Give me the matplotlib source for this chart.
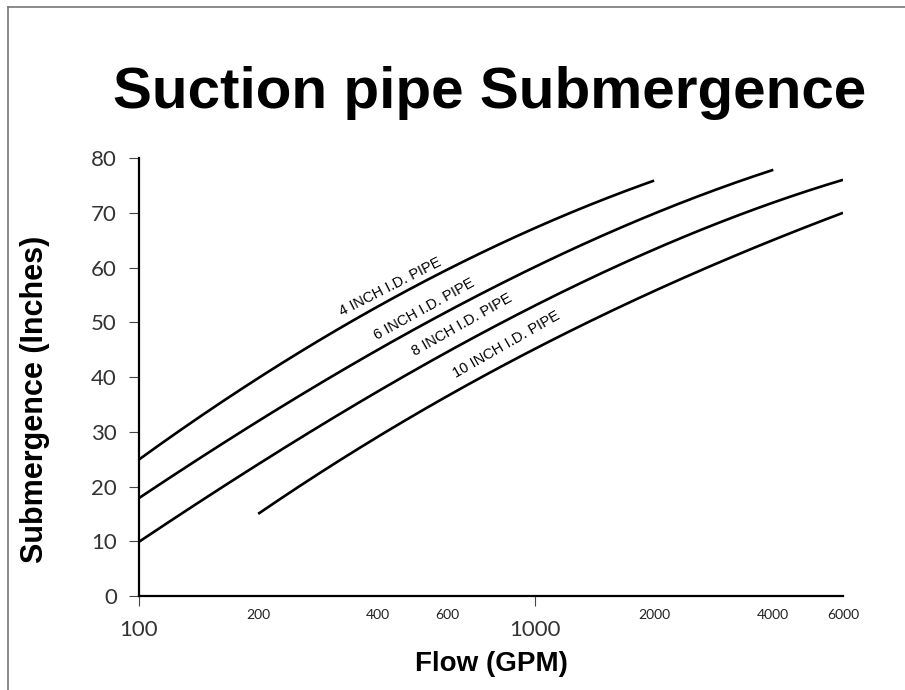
import numpy as np
import matplotlib.pyplot as plt
from matplotlib.lines import Line2D
from matplotlib.ticker import FixedLocator, FixedFormatter

# values (flow in GPM, submergence in inches)
flow_4 = [100, 200, 300, 500, 1000, 1500, 2000]
sub_4 = [25, 39.6, 47.6, 57, 67, 72.4, 76]

flow_6 = [100, 200, 300, 500, 1000, 2000, 3000, 4000]
sub_6 = [18, 31.6, 39.8, 49, 60.2, 69.7, 74.6, 78]

flow_8 = [100, 200, 300, 500, 1000, 2000, 4000, 6000]
sub_8 = [10, 23.8, 32, 41.5, 53.2, 63, 72, 76]

flow_10 = [200, 300, 500, 1000, 2000, 4000, 6000]
sub_10 = [15, 23.4, 33.3, 45, 55.8, 65, 70]

labels = ['4 INCH I.D. PIPE', '6 INCH I.D. PIPE', '8 INCH I.D. PIPE', '10 INCH I.D. PIPE']
label_pos = [(432, 56.4), (525, 52.4), (653, 49.5), (845, 46.0)]
label_rot = [27, 29, 29.5, 29.7]

major_x = [100, 1000]
minor_x = [200, 400, 600, 2000, 4000, 6000]
yticks = [0, 10, 20, 30, 40, 50, 60, 70, 80]

fig = plt.figure(figsize=(9.05, 6.9), dpi=100)
ax = fig.add_axes([0.1536, 0.1362, 0.7779, 0.6348])

# smooth each curve in log-flow so it reads like the hand-drawn original
for fx, sy in [(flow_4, sub_4), (flow_6, sub_6), (flow_8, sub_8), (flow_10, sub_10)]:
    lx = np.log10(fx)
    coef = np.polyfit(lx, sy, 3)
    xs = np.linspace(lx[0], lx[-1], 200)
    ax.plot(10 ** xs, np.polyval(coef, xs), color='black', lw=1.9,
            solid_capstyle='butt')

for txt, (lx, ly), rot in zip(labels, label_pos, label_rot):
    ax.text(lx, ly, txt, rotation=rot, ha='center', va='center',
            fontsize=10.5, family='Liberation Sans', rotation_mode='anchor')

ax.set_xscale('log')
ax.set_xlim(100, 6000)
ax.set_ylim(0, 80)

ax.xaxis.set_major_locator(FixedLocator(major_x))
ax.xaxis.set_major_formatter(FixedFormatter([str(v) for v in major_x]))
ax.xaxis.set_minor_locator(FixedLocator(minor_x))
ax.xaxis.set_minor_formatter(FixedFormatter([str(v) for v in minor_x]))
ax.set_yticks(yticks)

ax.tick_params(axis='x', which='major', length=7, width=0.8, color='#444',
               pad=10, labelsize=16, labelcolor='#333')
ax.tick_params(axis='x', which='minor', length=0, pad=9, labelsize=10,
               labelcolor='#222')
ax.tick_params(axis='y', length=7, width=0.8, color='#444', pad=9,
               labelsize=16, labelcolor='#333')
for lab in ax.get_xticklabels() + ax.get_yticklabels() + ax.get_xticklabels(minor=True):
    lab.set_family('Lato')

for s in ['top', 'right']:
    ax.spines[s].set_visible(False)
for s in ['left', 'bottom']:
    ax.spines[s].set_linewidth(1.6)

ax.set_xlabel('Flow (GPM)', fontsize=20, fontweight='bold',
              family='Liberation Sans', labelpad=8)
ax.set_ylabel('Submergence (Inches)', fontsize=22, fontweight='bold',
              family='Liberation Sans')
ax.yaxis.set_label_coords(-0.126, 0.45)

fig.text(0.541, 0.843, 'Suction pipe Submergence', ha='center', va='baseline',
         fontsize=42, fontweight='bold', family='Liberation Sans')

# thin frame lines along the left and top edge
fig.add_artist(Line2D([0.009, 0.009], [0, 0.99], color='#777', lw=1.2))
fig.add_artist(Line2D([0.009, 1], [0.99, 0.99], color='#777', lw=1.2))

fig.savefig('out.png', dpi=100)
